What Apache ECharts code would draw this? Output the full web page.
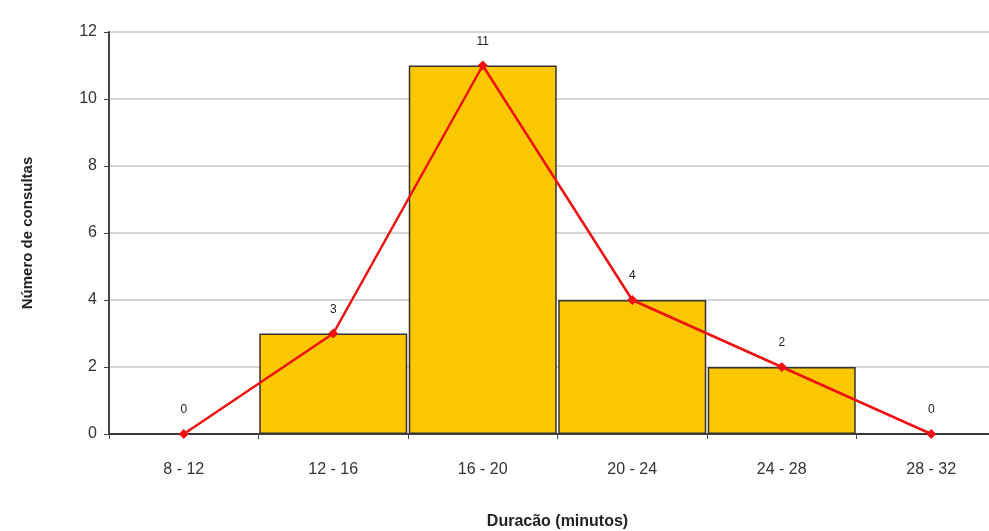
<!DOCTYPE html>
<html>
<head>
<meta charset="utf-8">
<script src="https://cdn.jsdelivr.net/npm/echarts@6/dist/echarts.min.js"></script>
<style>
  html, body { margin: 0; padding: 0; background: #fff; overflow: hidden; }
  #main { width: 989px; height: 531px; }
</style>
</head>
<body>
<div id="main"></div>
<script>
// intervalos de duração e frequências
const classes = ['8 - 12', '12 - 16', '16 - 20', '20 - 24', '24 - 28', '28 - 32'];
const freq = [0, 3, 11, 4, 2, 0];
const yTicks = [0, 2, 4, 6, 8, 10, 12];

let myChart = echarts.init(document.getElementById('main'));
const option = {
  backgroundColor: '#fff',
  animation: false,
  textStyle: { fontFamily: 'Liberation Sans, Arial, sans-serif' },
  grid: { left: 109, top: 32, right: -17, bottom: 97, outerBoundsMode: 'none', containLabel: false },
  xAxis: {
    type: 'category',
    data: classes,
    name: 'Duracão (minutos)',
    nameLocation: 'middle',
    nameGap: 80,
    nameTextStyle: { fontSize: 16, fontWeight: 'bold', color: '#222' },
    axisLine: { lineStyle: { color: '#444', width: 2 } },
    axisTick: { show: true, length: 5, lineStyle: { color: '#444' } },
    axisLabel: { fontSize: 16, color: '#333', margin: 28 }
  },
  yAxis: {
    type: 'value',
    min: 0, max: 12, interval: 2,
    name: 'Número de consultas',
    nameLocation: 'middle',
    nameGap: 74,
    nameTextStyle: { fontSize: 15, fontWeight: 'bold', color: '#222' },
    axisLine: { show: true, lineStyle: { color: '#444', width: 2 } },
    axisTick: { show: true, length: 5, lineStyle: { color: '#444' } },
    axisLabel: { fontSize: 16, color: '#333', margin: 12,
      formatter: v => yTicks.includes(v) ? String(v) : '' },
    splitLine: { lineStyle: { color: '#c8c8c8', width: 1.5 } }
  },
  series: [
    {
      name: 'barras',
      type: 'bar',
      data: freq,
      barCategoryGap: '1%',
      itemStyle: { color: '#FBC700', borderColor: '#333', borderWidth: 1.5 },
      z: 2
    },
    {
      name: 'polígono',
      type: 'line',
      data: freq,
      symbol: 'diamond',
      symbolSize: 10,
      lineStyle: { color: '#EE1111', width: 2.5 },
      itemStyle: { color: '#EE1111' },
      label: {
        show: true,
        position: 'top',
        distance: 13,
        fontSize: 12,
        color: '#222'
      },
      z: 3
    }
  ]
};
myChart.setOption(option);
</script>
</body>
</html>
